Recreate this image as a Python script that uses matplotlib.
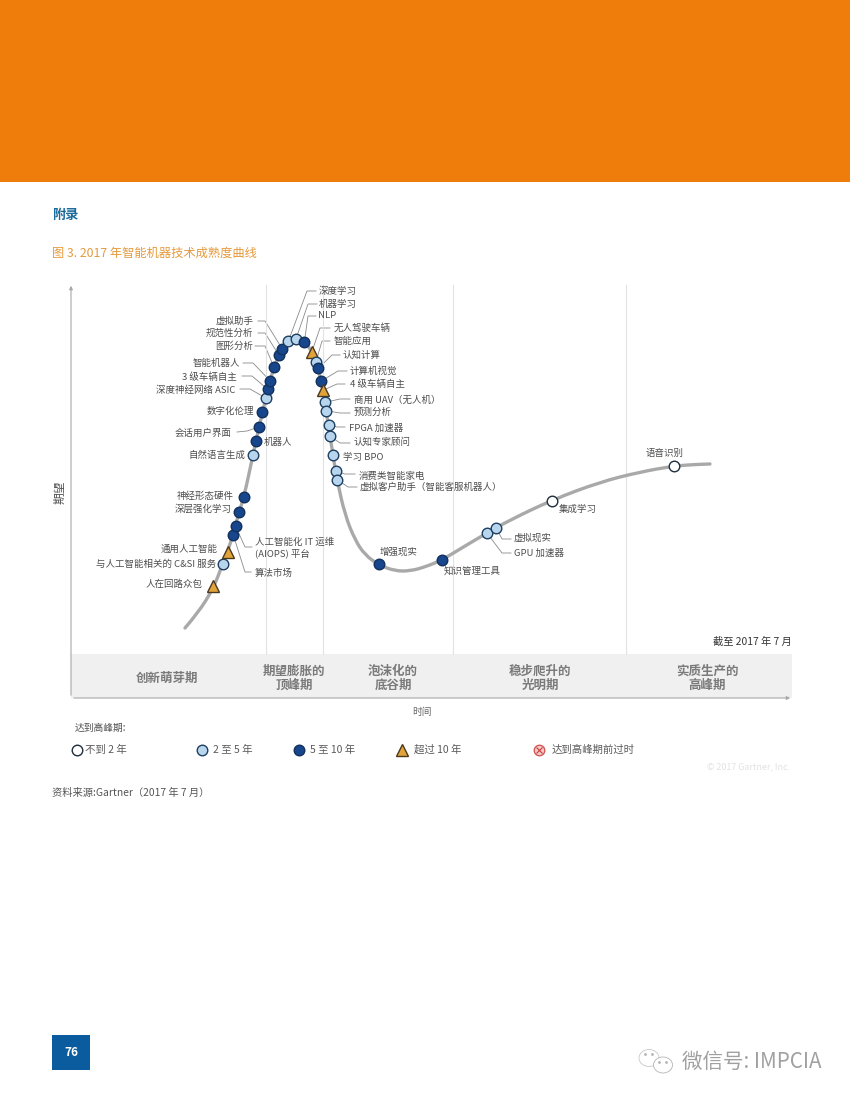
"""
plot.py
Gartner 2017 hype cycle page for smart machine technologies.
Run: python3 plot.py
"""

import matplotlib
matplotlib.use("Agg")
import matplotlib.pyplot as plt
from matplotlib.patches import Rectangle, Ellipse, PathPatch
from matplotlib.path import Path

plt.rcParams["font.family"] = ["Noto Sans CJK SC", "DejaVu Sans"]

# Hype curve (time, expectations)
curve_time = [114, 127, 142, 151, 157, 162, 168, 173, 182, 188, 195, 199, 205, 211, 217, 225, 233, 241, 247, 252,
              255, 259, 262, 266, 274, 284, 294, 308, 324, 339, 354, 371, 394, 416, 439, 481, 529, 569, 603, 624, 639]
curve_expect = [70, 85, 109, 132, 148, 163, 186, 201, 243, 271, 300, 318, 336, 349, 357, 360, 357, 347, 330, 308,
                288, 262, 243, 218, 183, 158, 143, 133, 127, 127, 131, 138, 152, 165, 178, 198, 216, 226, 232, 233.5, 234]

# Technologies on the curve, W <2y, L 2-5y, D 5-10y, T >10y
tech_time = [142.3, 151.7, 156.7, 162.3, 164.7, 168.3, 172.7, 182, 185, 188, 191.3, 194.7, 196.7, 199, 203, 208, 211.3,
             217.3, 225, 233.3, 240.7, 245, 247.3, 250.3, 252, 254.3, 255.3, 257.7, 259.3, 262, 264.7, 266.3,
             308, 370.7, 416, 425.3, 481.3, 602.7]
tech_expect = [112, 133.7, 146.3, 163, 171.7, 186, 200.7, 242.7, 257.3, 271, 286, 300, 308.7, 317.3, 330.7, 342.7, 349,
               356.7, 359, 355.7, 345.7, 336.3, 329.7, 317, 307.7, 295.7, 287.3, 273.3, 261.7, 243.3, 226.7, 218.3,
               134, 138, 165, 170.3, 197, 232]
tech_status = ["T", "L", "T", "D", "D", "D", "D", "L", "D", "D", "D", "L", "D", "D", "D", "D", "D",
               "L", "L", "D", "T", "L", "D", "D", "T", "L", "L", "L", "L", "L", "L", "L",
               "D", "D", "L", "L", "W", "W"]

phase_labels = ["创新萌芽期", "期望膨胀的\n顶峰期", "泡沫化的\n底谷期", "稳步爬升的\n光明期", "实质生产的\n高峰期"]
phase_center_x = [167, 294, 393, 540, 707]
phase_bounds = [195, 252, 382, 555]
legend_labels = ["不到 2 年", "2 至 5 年", "5 至 10 年", "超过 10 年", "达到高峰期前过时"]

# label, x, y, ha (page pixels), then leader elbow points going towards tech index
tech_labels = [
    ("人在回路众包", 203, 584, "right", None, 0),
    ("与人工智能相关的 C&SI 服务", 216, 564, "right", None, 1),
    ("通用人工智能", 218, 549, "right", None, 2),
    ("算法市场", 255, 573, "left", [(251, 572), (245, 572)], 3),
    ("人工智能化 IT 运维\n(AIOPS) 平台", 255, 548, "left", [(252, 547), (245, 547)], 4),
    ("深层强化学习", 232, 509, "right", None, 5),
    ("神经形态硬件", 234, 496, "right", None, 6),
    ("自然语言生成", 245, 455, "right", None, 7),
    ("机器人", 264, 443, "left", None, 8),
    ("会话用户界面", 232, 433, "right", [(237, 432), (247, 431)], 9),
    ("数字化伦理", 254, 411, "right", None, 10),
    ("深度神经网络 ASIC", 235, 390, "right", [(240, 389), (250, 389)], 11),
    ("3 级车辆自主", 237, 377, "right", [(242, 376), (252, 376)], 12),
    ("智能机器人", 240, 363, "right", [(243, 363), (253, 363)], 13),
    ("图形分析", 253, 346, "right", [(255, 346), (265, 346)], 14),
    ("规范性分析", 253, 333, "right", [(258, 333), (265, 333)], 15),
    ("虚拟助手", 254, 321, "right", [(258, 321), (265, 321)], 16),
    ("深度学习", 319, 291, "left", [(316, 291), (307, 291)], 17),
    ("机器学习", 319, 304, "left", [(317, 304), (308, 304)], 18),
    ("NLP", 318, 316, "left", [(316, 316), (308, 316)], 19),
    ("无人驾驶车辆", 334, 328, "left", [(330, 328), (320, 328)], 20),
    ("智能应用", 334, 341, "left", [(330, 341), (322, 341)], 21),
    ("认知计算", 343, 355, "left", [(340, 355), (332, 355)], 22),
    ("计算机视觉", 350, 371, "left", [(347, 371), (338, 371)], 23),
    ("4 级车辆自主", 350, 384, "left", [(345, 384), (337, 384)], 24),
    ("商用 UAV（无人机）", 354, 400, "left", [(350, 399), (340, 399)], 25),
    ("预测分析", 354, 412, "left", [(350, 413), (340, 413)], 26),
    ("FPGA 加速器", 349, 428, "left", [(345, 427), (337, 427)], 27),
    ("认知专家顾问", 354, 442, "left", [(350, 443), (340, 443)], 28),
    ("学习 BPO", 343, 457, "left", None, 29),
    ("消费类智能家电", 359, 476, "left", [(355, 474), (345, 474)], 30),
    ("虚拟客户助手（智能客服机器人）", 360, 487, "left", [(357, 487), (348, 487)], 31),
    ("增强现实", 380, 552, "left", None, 32),
    ("知识管理工具", 444, 571, "left", None, 33),
    ("GPU 加速器", 514, 553, "left", [(511, 553), (502, 553)], 34),
    ("虚拟现实", 514, 538, "left", [(511, 539), (502, 539)], 35),
    ("集成学习", 559, 509, "left", None, 36),
    ("语音识别", 646, 453, "left", None, 37),
]

ORANGE = "#ee7d0b"
TEXT = "#4d4d4d"
LEADER = "#8a8a8a"
STYLE = {
    "W": dict(marker="o", markersize=7.6, markerfacecolor="#ffffff", markeredgecolor="#1f2d3d"),
    "L": dict(marker="o", markersize=7.6, markerfacecolor="#b7d6ee", markeredgecolor="#1f3f60"),
    "D": dict(marker="o", markersize=7.6, markerfacecolor="#17468c", markeredgecolor="#12305c"),
    "T": dict(marker="^", markersize=8.6, markerfacecolor="#e2a33a", markeredgecolor="#4a3a20"),
}


def smooth_path(xs, ys):
    """Quadratic curve through the midpoints, so the line has no kinks."""
    verts = [(xs[0], ys[0])]
    codes = [Path.MOVETO]
    for i in range(1, len(xs) - 1):
        verts += [(xs[i], ys[i]), ((xs[i] + xs[i + 1]) / 2, (ys[i] + ys[i + 1]) / 2)]
        codes += [Path.CURVE3, Path.CURVE3]
    verts.append((xs[-1], ys[-1]))
    codes.append(Path.LINETO)
    return Path(verts, codes)


fig = plt.figure(figsize=(8.5, 11), dpi=100, facecolor="white")

# Page layer in pixels
page = fig.add_axes([0, 0, 1, 1])
page.set_xlim(0, 850)
page.set_ylim(1100, 0)
page.axis("off")

page.add_patch(Rectangle((0, 0), 850, 182, color=ORANGE, lw=0))
page.text(52, 215, "附录", color="#1b6a9c", fontsize=9.5, fontweight="bold", va="center")
page.text(52, 253, "图 3. 2017 年智能机器技术成熟度曲线", color="#e59a3c", fontsize=8.8, va="center")

# Phase band and axes
page.add_patch(Rectangle((71, 654), 721, 44, color="#f0f0f0", lw=0))
for b in phase_bounds:
    page.plot([71 + b, 71 + b], [285, 654], color="#e2e2e2", lw=0.8)
page.annotate("", xy=(71, 283), xytext=(71, 698), arrowprops=dict(arrowstyle="-|>", color="#a8a8a8", lw=0.8, mutation_scale=5))
page.annotate("", xy=(793, 698), xytext=(71, 698), arrowprops=dict(arrowstyle="-|>", color="#a8a8a8", lw=0.8, mutation_scale=5))

for label, cx in zip(phase_labels, phase_center_x):
    page.text(cx, 678, label, color="#7a7a7a", fontsize=9, fontweight="bold",
              ha="center", va="center", linespacing=1.1)

page.text(60, 492, "期望", color=TEXT, fontsize=8.5, rotation=90, ha="center", va="center")
page.text(422, 712, "时间", color="#666666", fontsize=7, ha="center", va="center")
page.text(792, 642, "截至 2017 年 7 月", color="#333333", fontsize=7.4, ha="right", va="center")

# Chart layer, one data unit is one pixel
ax = fig.add_axes([71 / 850, 1 - 698 / 1100, 721 / 850, 413 / 1100])
ax.set_xlim(0, 721)
ax.set_ylim(0, 413)
ax.axis("off")
ax.patch.set_alpha(0)

ax.add_patch(PathPatch(smooth_path(curve_time, curve_expect), fill=False, edgecolor="#a9a9a9", lw=2.4,
                       capstyle="round", joinstyle="round", zorder=2))
for t, e, s in zip(tech_time, tech_expect, tech_status):
    ax.plot([t], [e], linestyle="none", markeredgewidth=1.0, zorder=4, **STYLE[s])

for label, x, y, ha, elbow, idx in tech_labels:
    page.text(x, y, label, color=TEXT, fontsize=6.8, ha=ha, va="center", linespacing=1.25)
    if elbow:
        xs = [p[0] for p in elbow] + [tech_time[idx] + 71]
        ys = [p[1] for p in elbow] + [698 - tech_expect[idx]]
        page.plot(xs, ys, color=LEADER, lw=0.6, zorder=1)

# Legend
page.text(75, 728, "达到高峰期:", color=TEXT, fontsize=7, va="center")
legend_x = [77, 202, 299, 402, 539]
text_x = [85, 213, 310, 414, 552]
for x, s in zip(legend_x[:4], ["W", "L", "D", "T"]):
    page.plot([x], [750], linestyle="none", markeredgewidth=1.0, **STYLE[s])
page.plot([legend_x[4]], [750], marker="o", markersize=7.6, markerfacecolor="#f6c9c6", markeredgecolor="#d0504c", markeredgewidth=0.9)
page.plot([legend_x[4]], [750], marker="x", markersize=4.2, color="#c8403c", markeredgewidth=0.8)
for x, label in zip(text_x, legend_labels):
    page.text(x, 750, label, color="#5a5a5a", fontsize=7.5, va="center")

page.text(790, 767, "© 2017 Gartner, Inc.", color="#e2e2e2", fontsize=6.4, ha="right", va="center")
page.text(52, 793, "资料来源:Gartner（2017 年 7 月）", color="#555555", fontsize=7.4, va="center")

# Page number and watermark
page.add_patch(Rectangle((52, 1035), 38, 35, color="#0b5c9e", lw=0))
page.text(71, 1052, "76", color="white", fontsize=8.5, fontweight="bold", ha="center", va="center")

page.add_patch(Ellipse((649, 1058), 20, 17, fill=False, ec="#c8c8c8", lw=0.6))
page.add_patch(Ellipse((663, 1065), 19, 16, facecolor="white", ec="#b4b4b4", lw=0.6))
page.plot([645, 652, 659, 666], [1054, 1054, 1062, 1062], linestyle="none", marker="o", markersize=1, color="#b4b4b4")
page.text(682, 1062, "微信号: IMPCIA", color="#a0a0a0", fontsize=14.8, va="center")

fig.savefig("out.png", dpi=100, facecolor="white")
